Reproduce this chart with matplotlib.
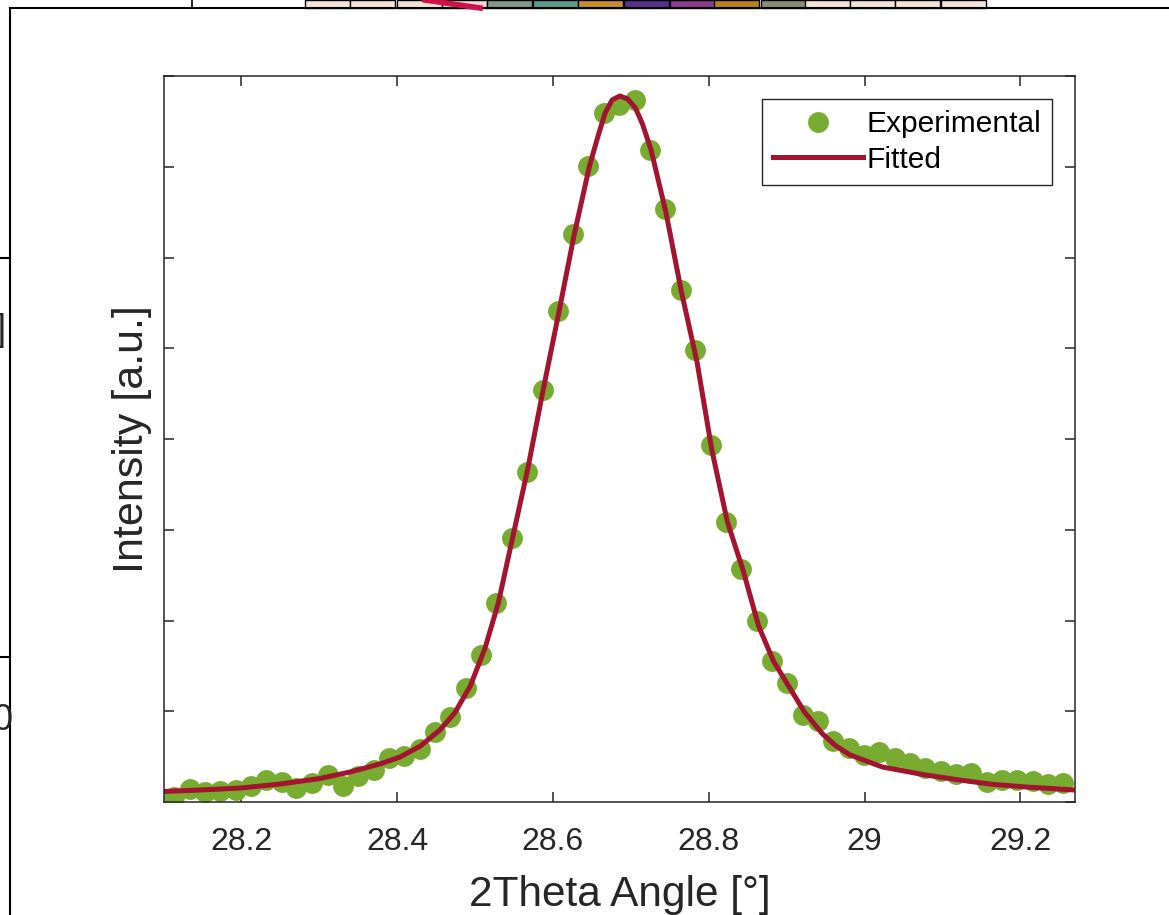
import matplotlib
matplotlib.use("Agg")
import matplotlib.pyplot as plt
from matplotlib.lines import Line2D
from matplotlib.patches import Rectangle

plt.rcParams["font.family"] = ["Liberation Sans", "DejaVu Sans"]

# experimental points (2theta in degrees, intensity in arbitrary units)
exp_angle = [
    28.114, 28.134, 28.153, 28.173, 28.193, 28.212, 28.232, 28.252, 28.271, 28.291,
    28.311, 28.331, 28.350, 28.370, 28.390, 28.409, 28.429, 28.449, 28.468, 28.488,
    28.508, 28.527, 28.547, 28.567, 28.587, 28.606, 28.626, 28.645, 28.665, 28.685,
    28.705, 28.724, 28.744, 28.764, 28.783, 28.803, 28.822, 28.842, 28.862, 28.881,
    28.901, 28.921, 28.940, 28.960, 28.980, 28.999, 29.019, 29.039, 29.058, 29.078,
    29.098, 29.117, 29.137, 29.157, 29.176, 29.196, 29.216, 29.235, 29.255,
]
exp_intensity = [
    0.050, 0.143, 0.110, 0.121, 0.127, 0.176, 0.237, 0.215, 0.154, 0.204,
    0.298, 0.176, 0.287, 0.353, 0.490, 0.507, 0.584, 0.775, 0.940, 1.256,
    1.620, 2.193, 2.906, 3.640, 4.540, 5.410, 6.259, 7.012, 7.589, 7.683,
    7.738, 7.187, 6.531, 5.642, 4.981, 3.934, 3.089, 2.562, 1.994, 1.559,
    1.308, 0.959, 0.893, 0.672, 0.592, 0.518, 0.551, 0.485, 0.430, 0.380,
    0.342, 0.309, 0.325, 0.220, 0.242, 0.242, 0.226, 0.198, 0.204,
]

# fitted profile
fit_angle = [
    28.101, 28.147, 28.199, 28.250, 28.301, 28.340, 28.378, 28.404, 28.430, 28.455,
    28.474, 28.494, 28.513, 28.530, 28.547, 28.568, 28.587, 28.608, 28.627, 28.647,
    28.658, 28.667, 28.676, 28.686, 28.696, 28.706, 28.715, 28.726, 28.745, 28.765,
    28.785, 28.804, 28.824, 28.844, 28.864, 28.883, 28.904, 28.923, 28.946, 28.963,
    28.981, 29.023, 29.078, 29.122, 29.164, 29.208, 29.270,
]
fit_intensity = [
    0.116, 0.132, 0.154, 0.198, 0.259, 0.331, 0.419, 0.496, 0.617, 0.793,
    0.981, 1.278, 1.697, 2.193, 2.860, 3.680, 4.518, 5.410, 6.237, 7.008,
    7.339, 7.592, 7.736, 7.780, 7.747, 7.647, 7.471, 7.185, 6.501, 5.620,
    4.848, 3.879, 3.085, 2.556, 1.939, 1.554, 1.256, 0.990, 0.750, 0.620,
    0.520, 0.385, 0.298, 0.242, 0.195, 0.165, 0.132,
]

x_ticks = [28.2, 28.4, 28.6, 28.8, 29.0, 29.2]
x_tick_labels = ["28.2", "28.4", "28.6", "28.8", "29", "29.2"]
y_ticks = [0, 1, 2, 3, 4, 5, 6, 7, 8]

green = "#77AC30"
red = "#A2142F"
dark = "#262626"

fig = plt.figure(figsize=(11.69, 9.15), dpi=100)
ax = fig.add_axes([164 / 1169, 1 - 802 / 915, (1075 - 164) / 1169, (802 - 76) / 915])

ax.plot(exp_angle, exp_intensity, "o", color=green, markersize=15,
        markeredgewidth=0, label="Experimental")
ax.plot(fit_angle, fit_intensity, "-", color=red, linewidth=3.6, label="Fitted")

ax.set_xlim(28.101, 29.27)
ax.set_ylim(0, 8)
ax.set_xticks(x_ticks)
ax.set_xticklabels(x_tick_labels)
ax.set_yticks(y_ticks)
ax.set_yticklabels([])
ax.tick_params(direction="in", length=7, width=1.1, colors=dark, labelsize=23,
               top=True, right=True, pad=18)
for spine in ax.spines.values():
    spine.set_color(dark)
    spine.set_linewidth(1.1)

ax.set_xlabel("2Theta Angle [°]", fontsize=30.5, color=dark, labelpad=13)
ax.set_ylabel("Intensity [a.u.]", fontsize=31, color=dark, labelpad=-9)

leg = ax.legend(loc="upper right", bbox_to_anchor=(0.9748, 0.9683),
                fontsize=21.5, handlelength=3.0, handletextpad=0.12,
                borderpad=0.37, labelspacing=0.26, borderaxespad=0,
                fancybox=False, framealpha=1, edgecolor=dark)
leg.get_frame().set_linewidth(1.0)

# bits of the neighbouring panels that are cut into the crop
W, H = 1169, 915
fig.add_artist(Line2D([10 / W, 10 / W], [0, 1 - 8 / H], color="black", lw=1.5))
fig.add_artist(Line2D([10 / W, 1], [1 - 8 / H, 1 - 8 / H], color="black", lw=1.5))
fig.add_artist(Line2D([0, 10 / W], [1 - 258 / H, 1 - 258 / H], color="black", lw=1.5))
fig.add_artist(Line2D([0, 10 / W], [1 - 657 / H, 1 - 657 / H], color="black", lw=1.5))
fig.add_artist(Line2D([192 / W, 192 / W], [1 - 8 / H, 1], color="black", lw=1.2))
cell_left = [305, 350, 397, 442, 487, 533, 578, 624, 670, 714, 761, 805, 850, 895, 941]
cell_color = ["#f3e4d6", "#f3e4d6", "#f3e4d6", "#f0d8d8", "#7f9a8a", "#5f9a90",
              "#c8902a", "#5a2e8c", "#8c3c8c", "#b8801e", "#8a8a78", "#f3e4d6",
              "#f3e4d6", "#f3e4d6", "#f3e4d6"]
for left, color in zip(cell_left, cell_color):
    fig.add_artist(Rectangle((left / W, 1 - 8 / H), 45 / W, 8 / H,
                             facecolor=color, edgecolor="black", lw=1.0))
fig.add_artist(Line2D([425 / W, 480 / W], [1 - 0 / H, 1 - 8 / H], color="#d0104a", lw=4))
fig.text(-0.006, 1 - 720 / H, "0", fontsize=26, va="center", ha="left", color=dark)
fig.text(-0.004, 1 - 330 / H, "]", fontsize=26, va="center", ha="left", color=dark)

fig.savefig("out.png", dpi=100)
